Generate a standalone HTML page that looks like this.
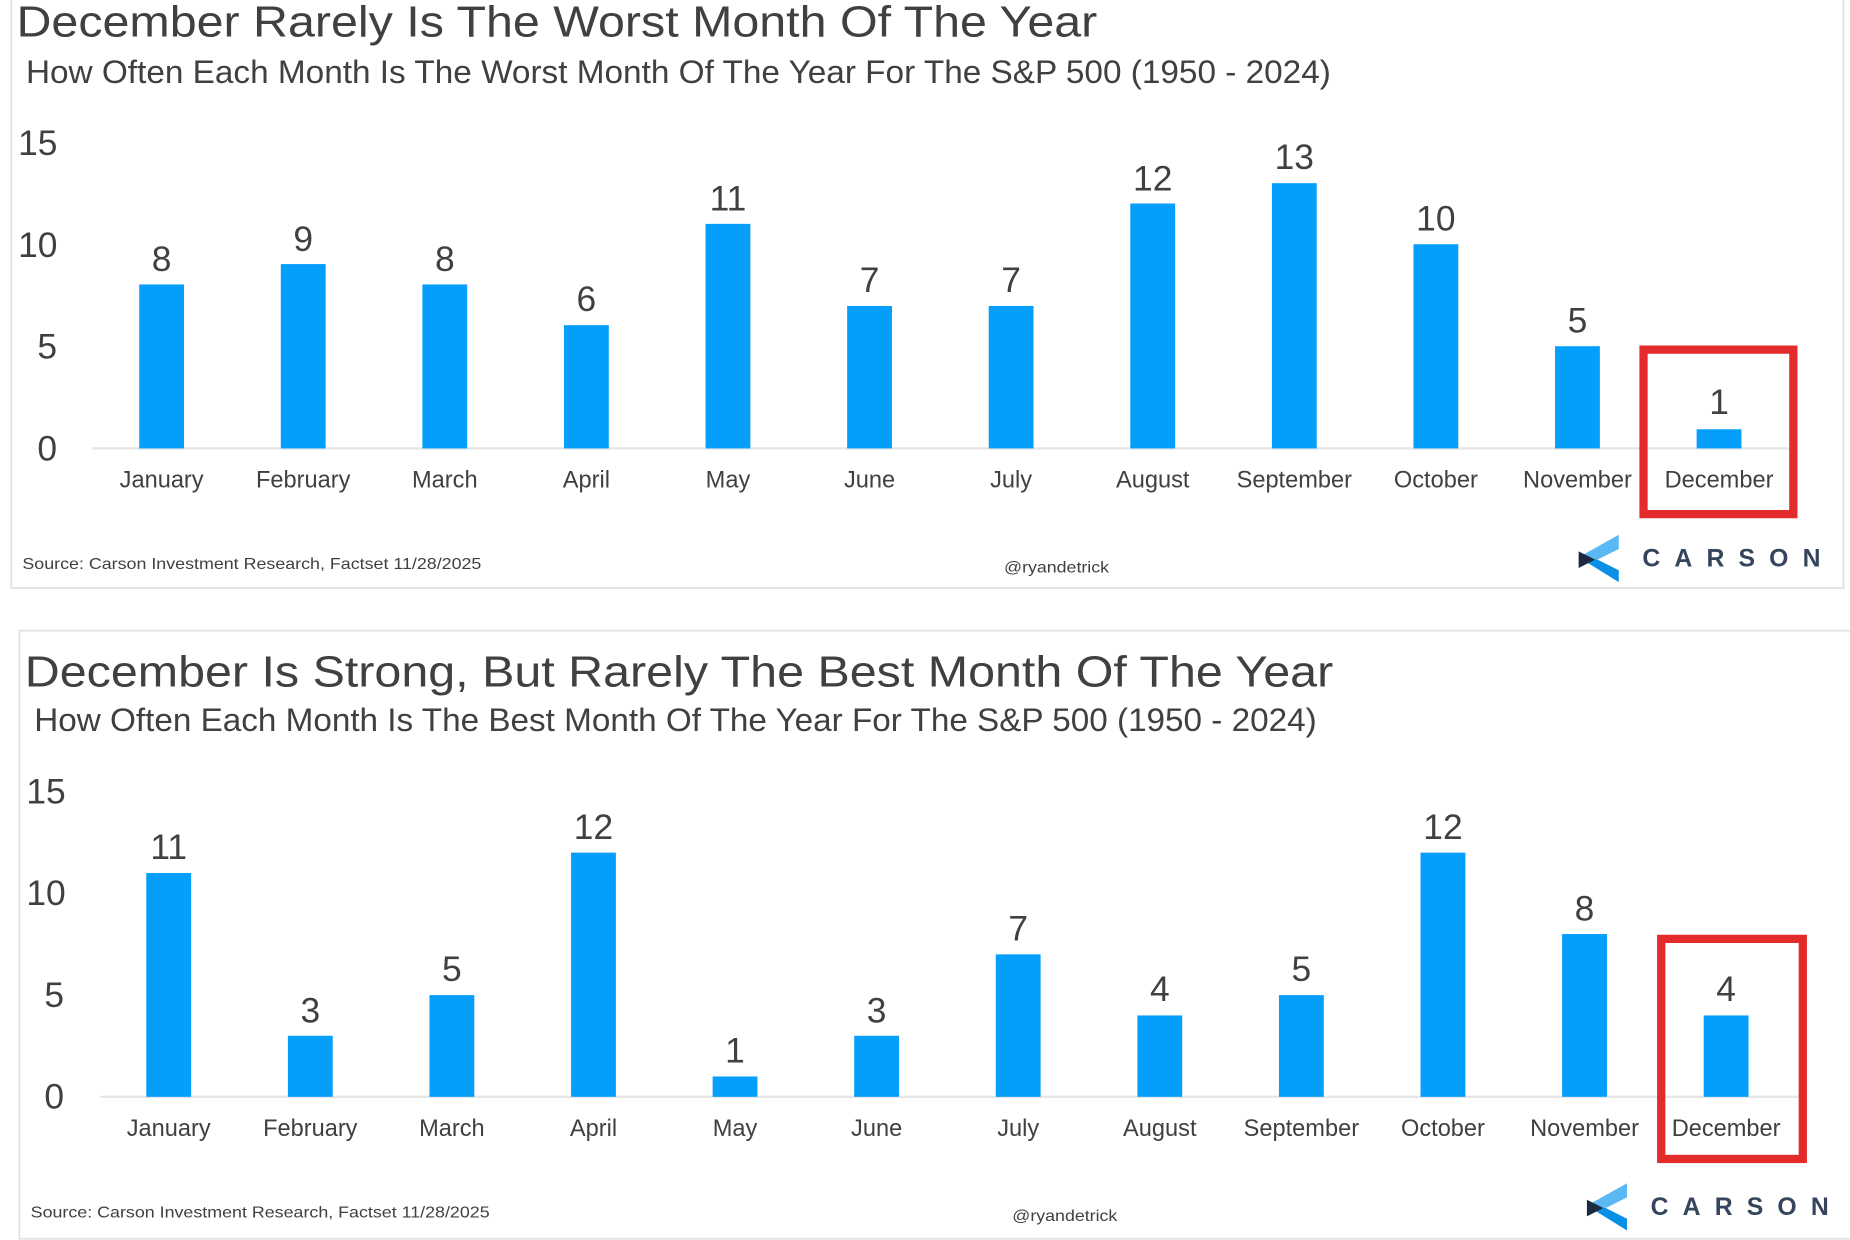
<!DOCTYPE html>
<html><head><meta charset="utf-8"><style>
html,body{margin:0;padding:0;background:#fff;}
svg{display:block;}
text{font-family:"Liberation Sans",sans-serif;fill:#404040;}
</style></head><body>
<svg width="1850" height="1240" viewBox="0 0 1568 1048" preserveAspectRatio="none" xmlns="http://www.w3.org/2000/svg">
<rect x="0" y="0" width="1568" height="1048" fill="#fff"/>
<!-- top panel -->
<rect x="9.5" y="-2" width="1553" height="499" fill="none" stroke="#e2e2e2" stroke-width="1.5"/>
<text x="14" y="31" font-size="37" textLength="916" lengthAdjust="spacingAndGlyphs" fill="#333">December Rarely Is The Worst Month Of The Year</text>
<text x="22" y="70" font-size="27" textLength="1106" lengthAdjust="spacingAndGlyphs" fill="#333">How Often Each Month Is The Worst Month Of The Year For The S&amp;P 500 (1950 - 2024)</text>
<g font-size="30" text-anchor="middle">
<text x="32" y="131">15</text><text x="32" y="217">10</text><text x="40" y="303">5</text><text x="40" y="389">0</text>
</g>
<line x1="78" y1="379" x2="1520" y2="379" stroke="#e6e6e6" stroke-width="2"/>
<g fill="#069efb" id="topbars">
<rect x="118" y="240.4" width="38" height="138.6"/>
<rect x="238" y="223.2" width="38" height="155.8"/>
<rect x="358" y="240.4" width="38" height="138.6"/>
<rect x="478" y="274.8" width="38" height="104.2"/>
<rect x="598" y="189.2" width="38" height="189.8"/>
<rect x="718" y="258.6" width="38" height="120.4"/>
<rect x="838" y="258.6" width="38" height="120.4"/>
<rect x="958" y="172" width="38" height="207"/>
<rect x="1078" y="154.8" width="38" height="224.2"/>
<rect x="1198" y="206.4" width="38" height="172.6"/>
<rect x="1318" y="292.6" width="38" height="86.4"/>
<rect x="1438" y="362.8" width="38" height="16.2"/>
</g>
<g font-size="30" text-anchor="middle">
<text x="137" y="229">8</text><text x="257" y="212">9</text><text x="377" y="229">8</text><text x="497" y="263">6</text>
<text x="617" y="178">11</text><text x="737" y="247">7</text><text x="857" y="247">7</text><text x="977" y="161">12</text>
<text x="1097" y="143">13</text><text x="1217" y="195">10</text><text x="1337" y="281">5</text><text x="1457" y="350">1</text>
</g>
<g font-size="20" text-anchor="middle">
<text x="137" y="412">January</text><text x="257" y="412">February</text><text x="377" y="412">March</text><text x="497" y="412">April</text>
<text x="617" y="412">May</text><text x="737" y="412">June</text><text x="857" y="412">July</text><text x="977" y="412">August</text>
<text x="1097" y="412">September</text><text x="1217" y="412">October</text><text x="1337" y="412">November</text><text x="1457" y="412">December</text>
</g>
<rect x="1393" y="295.5" width="127" height="139" fill="none" stroke="#e32b2b" stroke-width="7"/>
<text x="19" y="481" font-size="13" textLength="389" lengthAdjust="spacingAndGlyphs">Source: Carson Investment Research, Factset 11/28/2025</text>
<text x="851" y="484" font-size="13" textLength="89" lengthAdjust="spacingAndGlyphs">@ryandetrick</text>
<g transform="translate(1338,452)">
<polygon points="0,19 34,0 34,12 16,21" fill="#5ab8f5"/>
<polygon points="0,19 16,21 34,30 34,40" fill="#0a8fe6"/>
<polygon points="0,14 14,21 0,28" fill="#1b2a40"/>
</g>
<text x="1392" y="479" font-size="21" font-weight="bold" fill="#34455c" textLength="151" lengthAdjust="spacing" style="fill:#34455c">CARSON</text>

<!-- bottom panel -->
<rect x="16.5" y="533" width="1553" height="514" fill="none" stroke="#e2e2e2" stroke-width="1.5"/>
<text x="21" y="580" font-size="37" textLength="1109" lengthAdjust="spacingAndGlyphs" fill="#333">December Is Strong, But Rarely The Best Month Of The Year</text>
<text x="29" y="618" font-size="27" textLength="1087" lengthAdjust="spacingAndGlyphs" fill="#333">How Often Each Month Is The Best Month Of The Year For The S&amp;P 500 (1950 - 2024)</text>
<g font-size="30" text-anchor="middle">
<text x="39" y="679">15</text><text x="39" y="765">10</text><text x="46" y="851">5</text><text x="46" y="937">0</text>
</g>
<line x1="85" y1="927" x2="1527" y2="927" stroke="#e6e6e6" stroke-width="2"/>
<g fill="#069efb">
<rect x="124" y="737.8" width="38" height="189.2"/>
<rect x="244" y="875.4" width="38" height="51.6"/>
<rect x="364" y="841" width="38" height="86"/>
<rect x="484" y="720.6" width="38" height="206.4"/>
<rect x="604" y="909.8" width="38" height="17.2"/>
<rect x="724" y="875.4" width="38" height="51.6"/>
<rect x="844" y="806.6" width="38" height="120.4"/>
<rect x="964" y="858.2" width="38" height="68.8"/>
<rect x="1084" y="841" width="38" height="86"/>
<rect x="1204" y="720.6" width="38" height="206.4"/>
<rect x="1324" y="789.4" width="38" height="137.6"/>
<rect x="1444" y="858.2" width="38" height="68.8"/>
</g>
<g font-size="30" text-anchor="middle">
<text x="143" y="726">11</text><text x="263" y="864">3</text><text x="383" y="829">5</text><text x="503" y="709">12</text>
<text x="623" y="898">1</text><text x="743" y="864">3</text><text x="863" y="795">7</text><text x="983" y="846">4</text>
<text x="1103" y="829">5</text><text x="1223" y="709">12</text><text x="1343" y="778">8</text><text x="1463" y="846">4</text>
</g>
<g font-size="20" text-anchor="middle">
<text x="143" y="960">January</text><text x="263" y="960">February</text><text x="383" y="960">March</text><text x="503" y="960">April</text>
<text x="623" y="960">May</text><text x="743" y="960">June</text><text x="863" y="960">July</text><text x="983" y="960">August</text>
<text x="1103" y="960">September</text><text x="1223" y="960">October</text><text x="1343" y="960">November</text><text x="1463" y="960">December</text>
</g>
<rect x="1408" y="793.5" width="120" height="186" fill="none" stroke="#e32b2b" stroke-width="7"/>
<text x="26" y="1029" font-size="13" textLength="389" lengthAdjust="spacingAndGlyphs">Source: Carson Investment Research, Factset 11/28/2025</text>
<text x="858" y="1032" font-size="13" textLength="89" lengthAdjust="spacingAndGlyphs">@ryandetrick</text>
<g transform="translate(1345,1000)">
<polygon points="0,19 34,0 34,12 16,21" fill="#5ab8f5"/>
<polygon points="0,19 16,21 34,30 34,40" fill="#0a8fe6"/>
<polygon points="0,14 14,21 0,28" fill="#1b2a40"/>
</g>
<text x="1399" y="1027" font-size="21" font-weight="bold" textLength="151" lengthAdjust="spacing" style="fill:#34455c">CARSON</text>
</svg>
</body></html>
